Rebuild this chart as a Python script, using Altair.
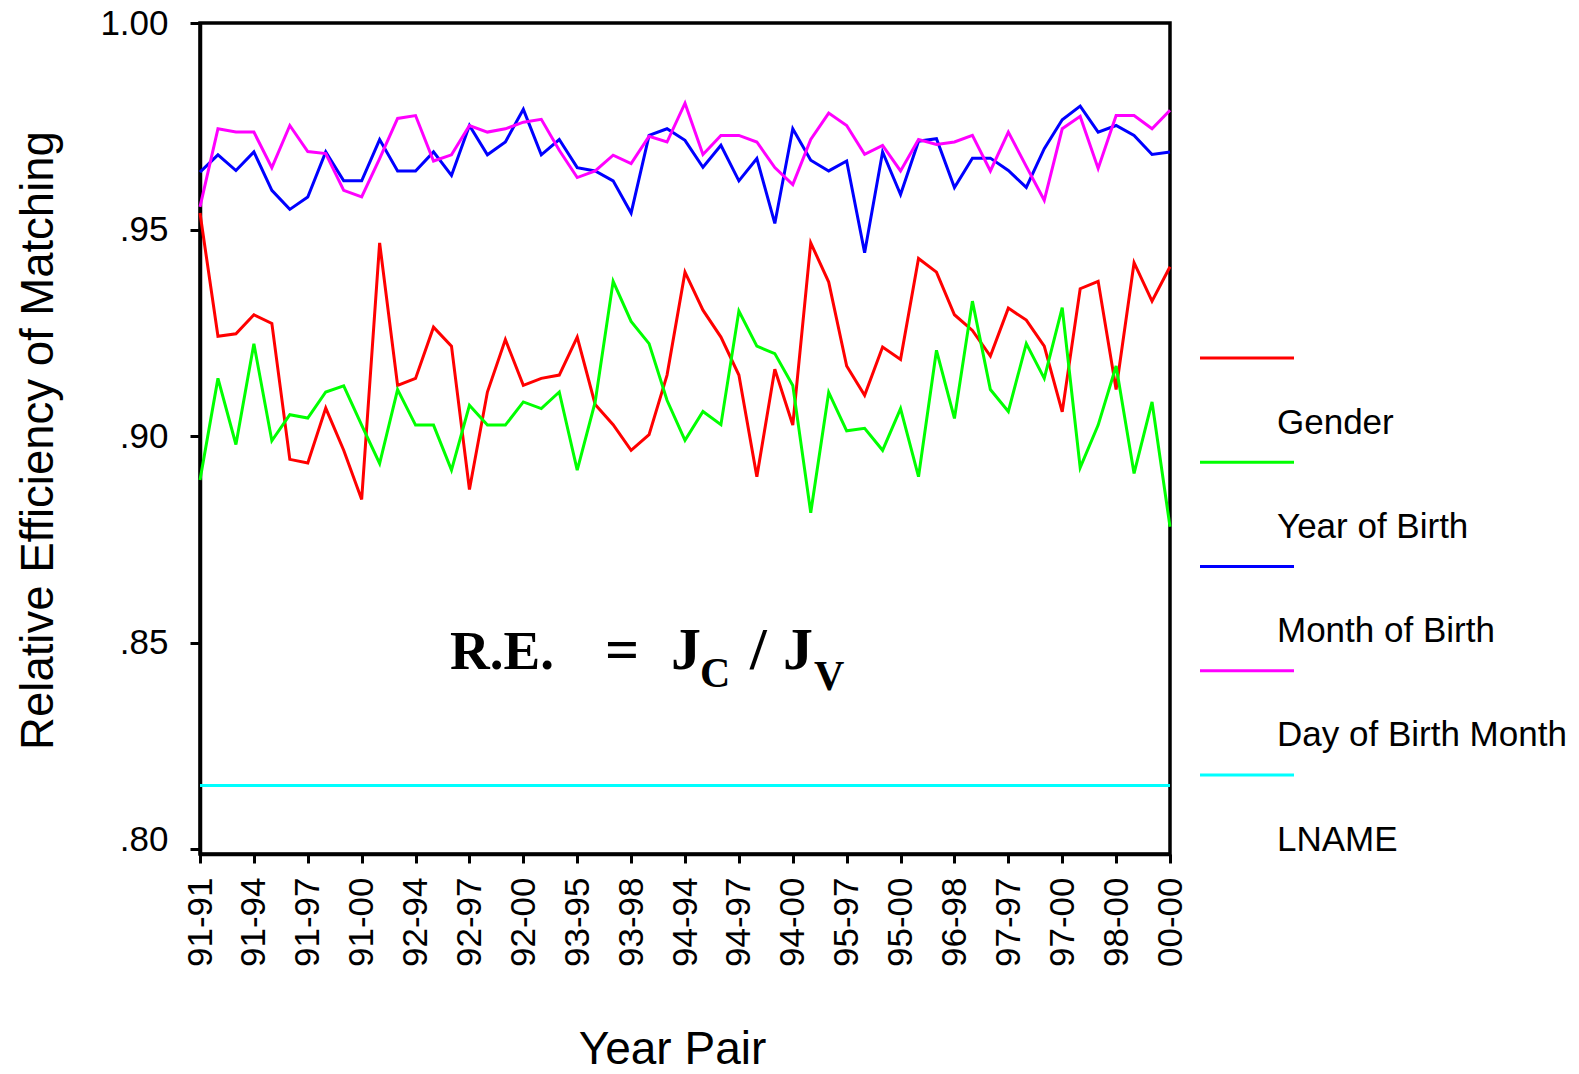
import altair as alt
import pandas as pd

years = ["91", "92", "93", "94", "95", "96", "97", "98", "99", "00"]
pairs = [f"{a}-{b}" for i, a in enumerate(years) for b in years[i:]]
tick_pairs = pairs[::3]

series_names = ["Gender", "Year of Birth", "Month of Birth", "Day of Birth Month", "LNAME"]
series_colors = ["#ff0000", "#00ff00", "#0000ff", "#ff00ff", "#00ffff"]

gender = [0.9540, 0.9242, 0.9248, 0.9294, 0.9273, 0.8944, 0.8935, 0.9068, 0.8966, 0.8847,
          0.9468, 0.9123, 0.9140, 0.9264, 0.9218, 0.8871, 0.9107, 0.9234, 0.9123, 0.9140,
          0.9148, 0.9240, 0.9077, 0.9028, 0.8966, 0.9004, 0.9148, 0.9397, 0.9305, 0.9240,
          0.9148, 0.8902, 0.9162, 0.9027, 0.9468, 0.9373, 0.9170, 0.9099, 0.9216, 0.9186,
          0.9430, 0.9397, 0.9294, 0.9256, 0.9194, 0.9310, 0.9281, 0.9218, 0.9059, 0.9357,
          0.9375, 0.9113, 0.9420, 0.9327, 0.9410]
year_of_birth = [0.8894, 0.9140, 0.8980, 0.9224, 0.8989, 0.9052, 0.9044, 0.9107, 0.9122, 0.9027,
                 0.8934, 0.9113, 0.9027, 0.9027, 0.8918, 0.9075, 0.9027, 0.9027, 0.9083, 0.9067,
                 0.9107, 0.8918, 0.9083, 0.9375, 0.9278, 0.9224, 0.9087, 0.8990, 0.9060, 0.9028,
                 0.9303, 0.9218, 0.9200, 0.9123, 0.8815, 0.9106, 0.9013, 0.9019, 0.8966, 0.9067,
                 0.8902, 0.9208, 0.9043, 0.9327, 0.9113, 0.9060, 0.9224, 0.9140, 0.9311, 0.8924,
                 0.9027, 0.9170, 0.8910, 0.9083, 0.8781]
month_of_birth = [0.9639, 0.9681, 0.9643, 0.9688, 0.9595, 0.9549, 0.9579, 0.9688, 0.9618, 0.9618,
                  0.9718, 0.9642, 0.9642, 0.9688, 0.9631, 0.9752, 0.9681, 0.9712, 0.9791, 0.9681,
                  0.9718, 0.9650, 0.9642, 0.9618, 0.9540, 0.9728, 0.9744, 0.9716, 0.9651, 0.9704,
                  0.9618, 0.9672, 0.9515, 0.9744, 0.9668, 0.9642, 0.9666, 0.9444, 0.9688, 0.9585,
                  0.9714, 0.9720, 0.9602, 0.9673, 0.9673, 0.9643, 0.9602, 0.9696, 0.9766, 0.9799,
                  0.9736, 0.9752, 0.9728, 0.9682, 0.9688]
day_of_birth_month = [0.9555, 0.9744, 0.9736, 0.9736, 0.9650, 0.9752, 0.9689, 0.9684, 0.9595, 0.9579,
                      0.9672, 0.9769, 0.9776, 0.9666, 0.9681, 0.9752, 0.9736, 0.9744, 0.9760, 0.9767,
                      0.9692, 0.9626, 0.9642, 0.9680, 0.9660, 0.9726, 0.9712, 0.9806, 0.9682, 0.9728,
                      0.9728, 0.9712, 0.9650, 0.9609, 0.9718, 0.9782, 0.9752, 0.9682, 0.9704, 0.9642,
                      0.9718, 0.9706, 0.9712, 0.9728, 0.9642, 0.9736, 0.9653, 0.9571, 0.9744, 0.9774,
                      0.9648, 0.9776, 0.9776, 0.9744, 0.9789]
lname = [0.8155, 0.8155, 0.8155, 0.8155, 0.8155, 0.8155, 0.8155, 0.8155, 0.8155, 0.8155,
         0.8155, 0.8155, 0.8155, 0.8155, 0.8155, 0.8155, 0.8155, 0.8155, 0.8155, 0.8155,
         0.8155, 0.8155, 0.8155, 0.8155, 0.8155, 0.8155, 0.8155, 0.8155, 0.8155, 0.8155,
         0.8155, 0.8155, 0.8155, 0.8155, 0.8155, 0.8155, 0.8155, 0.8155, 0.8155, 0.8155,
         0.8155, 0.8155, 0.8155, 0.8155, 0.8155, 0.8155, 0.8155, 0.8155, 0.8155, 0.8155,
         0.8155, 0.8155, 0.8155, 0.8155, 0.8155]

y_ticks = [0.80, 0.85, 0.90, 0.95, 1.00]

rows = []
for name, vals in zip(series_names, [gender, year_of_birth, month_of_birth, day_of_birth_month, lname]):
    for p, v in zip(pairs, vals):
        rows.append({"pair": p, "series": name, "value": v})
df = pd.DataFrame(rows)

leg_df = pd.DataFrame({"series": series_names, "k": list(range(len(series_names)))})

FONT = "Liberation Sans"
SERIF = "Liberation Serif"

color = alt.Color("series:N", scale=alt.Scale(domain=series_names, range=series_colors), legend=None)

lines = alt.Chart(df).mark_line(strokeWidth=3).encode(
    x=alt.X("pair:O", sort=pairs,
            scale=alt.Scale(type="point", padding=0),
            axis=alt.Axis(values=tick_pairs, labelAngle=-90, labelFontSize=35, labelFont=FONT,
                          labelPadding=14, tickSize=9, tickWidth=3, labelOverlap=False,
                          title="Year Pair", titleFont=FONT, titleFontSize=46, titleFontWeight="normal",
                          titleX=472, titleY=195, titleAlign="center", titleBaseline="middle")),
    y=alt.Y("value:Q", scale=alt.Scale(domain=[0.7989, 1.0], nice=False, zero=False),
            axis=alt.Axis(values=y_ticks, grid=False, labelFontSize=35, labelFont=FONT,
                          labelExpr="replace(format(datum.value, '.2f'), '0.', '.')",
                          labelOffset={"condition": {"test": "datum.value < 0.81", "value": -10}, "value": 0},
                          labelPadding=22, tickSize=10, tickWidth=3, labelFlush=False,
                          title="Relative Efficiency of Matching", titleFont=FONT, titleFontSize=45.5,
                          titleFontWeight="normal", titleX=-162, titleY=417, titleAngle=-90,
                          titleAlign="center", titleBaseline="middle")),
    color=color,
)

one = pd.DataFrame({"t": [0]})


def piece(txt, x, y, size):
    return alt.Chart(one).mark_text(text=txt, font=SERIF, fontWeight="bold", fontSize=size,
                                    align="left", baseline="alphabetic", color="black").encode(
        x=alt.value(x), y=alt.value(y))


annot = alt.layer(
    piece("R.E.", 250, 646, 55),
    piece("=", 405, 646, 60),
    piece("J", 471, 646, 60),
    piece("C", 500, 664, 42),
    piece("/", 550, 646, 60),
    piece("J", 583, 646, 60),
    piece("V", 614, 667, 42),
)

leg_y = alt.Y("k:Q", scale=alt.Scale(domain=[0, 4], range=[335, 752]), axis=None)
leg_rules = alt.Chart(leg_df).mark_rule(strokeWidth=3.2).encode(
    x=alt.value(1000), x2=alt.value(1094), y=leg_y, color=color)
leg_text = alt.Chart(leg_df).mark_text(align="left", baseline="middle", dy=64.5, fontSize=35,
                                       font=FONT, color="black").encode(
    x=alt.value(1077), y=leg_y, text="series:N")

main = alt.layer(lines, annot)
legend = alt.layer(leg_rules, leg_text)

chart = alt.layer(main, legend).resolve_scale(y="independent").properties(
    width=970, height=831,
    autosize=alt.AutoSizeParams(type="none"),
    padding={"left": 200, "top": 23, "right": 409, "bottom": 220},
    background="white",
).configure_view(stroke="black", strokeWidth=3.5).configure_axis(
    labelColor="black", tickColor="black", domainColor="black", domainWidth=3.5, titleColor="black"
)

chart.save("out.html", embed_options={"renderer": "svg", "actions": False})
